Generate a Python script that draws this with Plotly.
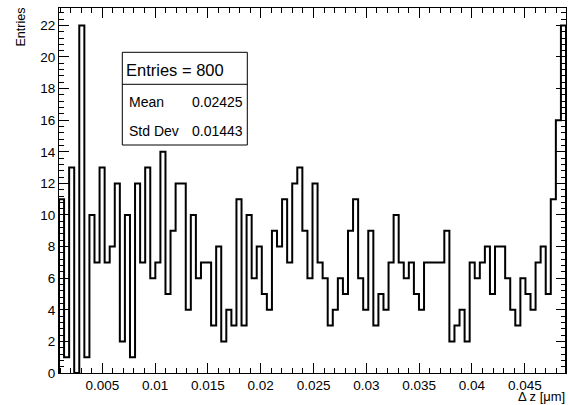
import plotly.graph_objects as go

# ---- data ----
x_min = 0.0009
x_max = 0.0489
n_bins = 100
counts = [
    11, 1, 13, 0, 22, 1, 10, 7, 13, 7,
    8, 12, 2, 10, 1, 12, 7, 13, 6, 7,
    14, 5, 9, 12, 12, 4, 10, 6, 7, 7,
    3, 8, 2, 4, 3, 11, 3, 10, 6, 8,
    5, 4, 9, 8, 11, 7, 12, 13, 9, 6,
    12, 7, 6, 3, 4, 6, 5, 9, 11, 6,
    4, 9, 3, 5, 4, 7, 10, 7, 6, 7,
    5, 4, 7, 7, 7, 7, 9, 2, 3, 4,
    2, 7, 6, 7, 8, 5, 8, 8, 6, 4,
    3, 6, 5, 4, 7, 8, 5, 11, 16, 22,
]
stats_entries = 800
stats_mean = "0.02425"
stats_std = "0.01443"
x_title = "Δ z [μm]"
y_title = "Entries"

# ---- build step outline ----
bw = (x_max - x_min) / n_bins
edges = [x_min + i * bw for i in range(n_bins + 1)]
xs = [edges[0]] + edges
ys = [0] + counts + [0]

FONT = "Liberation Sans, Arial, Helvetica, sans-serif"

fig = go.Figure()
fig.add_trace(go.Scatter(
    x=xs, y=ys, mode="lines", line=dict(shape="hv", color="black", width=2),
    hoverinfo="skip", showlegend=False,
))

W, H = 568, 405
L, R, T, B = 59, 2, 8, 32
pw, ph = W - L - R, H - T - B

def px(xp):
    return (xp - L) / pw

def py(yp):
    return (H - B - yp) / ph

axis_common = dict(
    showline=True, linecolor="black", linewidth=1, mirror="allticks",
    ticks="inside", ticklen=10, tickwidth=1, tickcolor="black",
    showgrid=False, zeroline=False,
    tickfont=dict(family=FONT, size=13.5, color="black"),
)

fig.update_layout(
    width=W, height=H,
    margin=dict(l=L, r=R, t=T, b=B, pad=0),
    paper_bgcolor="white", plot_bgcolor="white",
    font=dict(family=FONT, color="black"),
    xaxis=dict(range=[x_min, x_max], tick0=0, dtick=0.005,
               minor=dict(dtick=0.001, ticks="inside", ticklen=5, tickcolor="black", showgrid=False),
               **axis_common),
    yaxis=dict(range=[0, 23.1], tick0=0, dtick=2,
               minor=dict(dtick=0.4, ticks="inside", ticklen=5, tickcolor="black", showgrid=False),
               **axis_common),
)

# stats box
bx0, bx1 = px(122.3), px(247.3)
by0, by1 = py(145), py(52.3)
fig.add_shape(type="rect", xref="paper", yref="paper", x0=bx0, x1=bx1, y0=by0, y1=by1,
              line=dict(color="black", width=1), fillcolor="white", layer="above")
fig.add_shape(type="line", xref="paper", yref="paper", x0=bx0, x1=bx1, y0=py(84.3), y1=py(84.3),
              line=dict(color="black", width=1), layer="above")

def ann(text, x, y, xanchor, size, yanchor="middle", angle=0):
    fig.add_annotation(text=text, xref="paper", yref="paper", x=x, y=y,
                       xanchor=xanchor, yanchor=yanchor, showarrow=False,
                       textangle=angle, borderpad=0,
                       font=dict(family=FONT, size=size, color="black"))

ann(f"Entries = {stats_entries}", px(124.5), py(69.5), "left", 16.5)
ann("Mean", px(128), py(101.7), "left", 14)
ann(stats_mean, px(244), py(101.7), "right", 14)
ann("Std Dev", px(128), py(131), "left", 14)
ann(stats_std, px(244), py(131), "right", 14)

# axis titles
ann(x_title, px(566), py(405), "right", 13, yanchor="bottom")
ann(y_title, px(21), py(7), "center", 12.5, yanchor="top", angle=-90)

fig.write_html("out.html")
